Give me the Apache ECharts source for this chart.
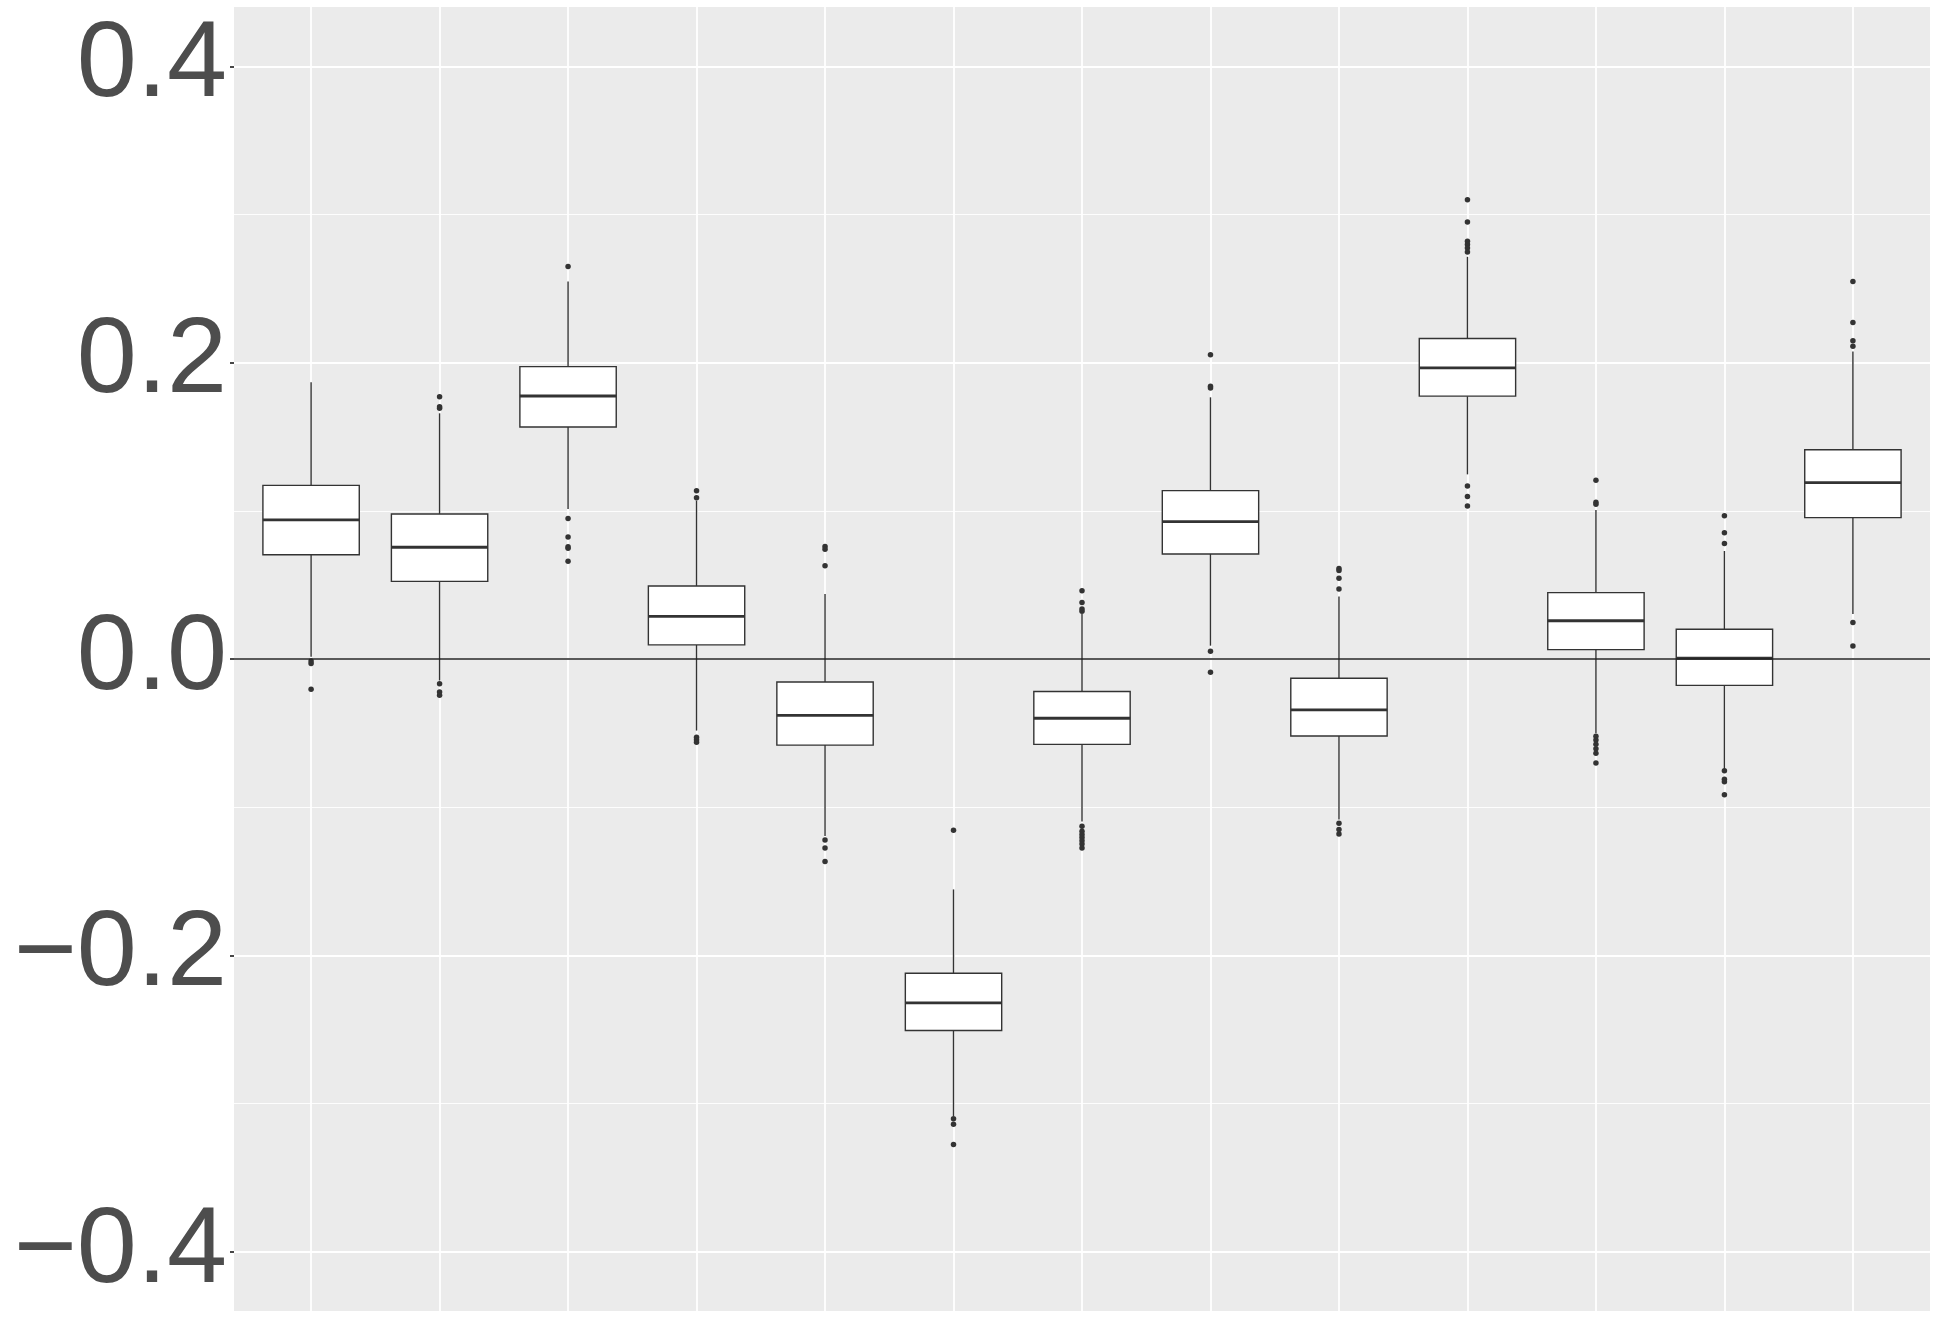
<!DOCTYPE html>
<html>
<head>
<meta charset="utf-8">
<title>boxplot</title>
<script src="https://cdn.jsdelivr.net/npm/echarts@6/dist/echarts.min.js"></script>
<style>
	html, body { margin: 0; padding: 0; background: #fff; }
	#chart { width: 1937px; height: 1321px; }
</style>
</head>
<body>
<div id="chart"></div>
<script>
	// x positions of the 13 groups (no labels shown on the x axis)
	var groups = [0, 1, 2, 3, 4, 5, 6, 7, 8, 9, 10, 11, 12]

	// box statistics per group
	var whiskerLow = [0.0015, -0.0145, 0.1013, -0.0483, -0.1195, -0.3084, -0.1097, 0.0090, -0.1083, 0.1246, -0.0501, -0.0742, 0.0304]
	var q1 = [0.0704, 0.0524, 0.1566, 0.0095, -0.0581, -0.2507, -0.0576, 0.0709, -0.0520, 0.1774, 0.0063, -0.0178, 0.0954]
	var median = [0.0939, 0.0754, 0.1775, 0.0288, -0.0381, -0.2321, -0.0400, 0.0927, -0.0344, 0.1964, 0.0258, 0.0005, 0.1190]
	var q3 = [0.1172, 0.0979, 0.1973, 0.0493, -0.0155, -0.2121, -0.0219, 0.1136, -0.0130, 0.2163, 0.0448, 0.0201, 0.1412]
	var whiskerHigh = [0.1867, 0.1658, 0.2547, 0.1069, 0.0439, -0.1555, 0.0304, 0.1766, 0.0422, 0.2714, 0.1005, 0.0729, 0.2075]

	// outlying points per group
	var outliers = [
		[-0.0013, -0.0030, -0.0204],
		[0.1769, 0.1703, 0.1692, -0.0167, -0.0222, -0.0245],
		[0.2648, 0.0949, 0.0824, 0.0758, 0.0747, 0.0659],
		[0.1136, 0.1089, -0.0528, -0.0545, -0.0562],
		[0.0760, 0.0740, 0.0630, -0.1221, -0.1275, -0.1366],
		[-0.1155, -0.3103, -0.3140, -0.3276],
		[0.0460, 0.0382, 0.0337, 0.0323, -0.1128, -0.1163, -0.1184, -0.1205, -0.1227, -0.1248, -0.1275],
		[0.2054, 0.1840, 0.1828, 0.0052, -0.0090],
		[0.0611, 0.0598, 0.0545, 0.0472, -0.1109, -0.1150, -0.1181],
		[0.3099, 0.2949, 0.2819, 0.2798, 0.2774, 0.2747, 0.1168, 0.1096, 0.1032],
		[0.1207, 0.1057, 0.1045, -0.0522, -0.0546, -0.0576, -0.0606, -0.0636, -0.0702],
		[0.0966, 0.0852, 0.0779, -0.0754, -0.0811, -0.0829, -0.0916],
		[0.2548, 0.2271, 0.2147, 0.2111, 0.0246, 0.0087]
	]

	// y axis ticks
	var yMajorTicks = [-0.4, -0.2, 0, 0.2, 0.4]
	var yMinorTicks = [-0.3, -0.1, 0.1, 0.3]

	var boxData = groups.map(function (g, i) {
		return [g, whiskerLow[i], q1[i], median[i], q3[i], whiskerHigh[i]]
	})
	var outlierData = []
	groups.forEach(function (g, i) {
		outliers[i].forEach(function (v) {
			outlierData.push([g, v])
		})
	})

	var boxColor = '#333333'

	function renderBox(params, api) {
		var x = api.value(0)
		var half = api.size([0.75, 0])[0] / 2
		var pLo = api.coord([x, api.value(1)])
		var pQ1 = api.coord([x, api.value(2)])
		var pMed = api.coord([x, api.value(3)])
		var pQ3 = api.coord([x, api.value(4)])
		var pHi = api.coord([x, api.value(5)])
		var thin = { stroke: boxColor, lineWidth: 1.4 }
		return {
			type: 'group',
			children: [
				{ type: 'line', shape: { x1: pLo[0], y1: pLo[1], x2: pQ1[0], y2: pQ1[1] }, style: thin },
				{ type: 'line', shape: { x1: pQ3[0], y1: pQ3[1], x2: pHi[0], y2: pHi[1] }, style: thin },
				{
					type: 'rect',
					shape: { x: pQ3[0] - half, y: pQ3[1], width: half * 2, height: pQ1[1] - pQ3[1] },
					style: { fill: '#ffffff', stroke: boxColor, lineWidth: 1.4 }
				},
				{
					type: 'line',
					shape: { x1: pMed[0] - half, y1: pMed[1], x2: pMed[0] + half, y2: pMed[1] },
					style: { stroke: boxColor, lineWidth: 2.8 }
				}
			]
		}
	}

	var chart = echarts.init(document.getElementById('chart'))
	var option = {
		animation: false,
		grid: {
			left: 234,
			right: 7,
			top: 7,
			bottom: 10,
			show: true,
			backgroundColor: '#EBEBEB',
			borderWidth: 0,
			outerBoundsMode: 'none'
		},
		xAxis: {
			type: 'value',
			min: -0.6,
			max: 12.6,
			axisLine: { show: false, onZero: false },
			axisTick: { show: false, customValues: groups },
			axisLabel: { show: false, customValues: groups },
			splitLine: { show: true, lineStyle: { color: '#ffffff', width: 1.8 } }
		},
		yAxis: [{
			type: 'value',
			min: -0.44,
			max: 0.44,
			axisLine: { show: false, onZero: false },
			axisTick: {
				show: true,
				length: 4,
				customValues: yMajorTicks,
				lineStyle: { color: '#333333', width: 1.8 }
			},
			axisLabel: {
				customValues: yMajorTicks,
				margin: 7,
				padding: [6, 0, 0, 0],
				color: '#4D4D4D',
				fontSize: 108,
				fontFamily: '"Liberation Sans", Arial, Helvetica, sans-serif',
				formatter: function (v) {
					return (v < 0 ? '\u2212' : '') + Math.abs(v).toFixed(1)
				}
			},
			splitLine: { show: true, lineStyle: { color: '#ffffff', width: 1.8 } }
		}, {
			type: 'value',
			min: -0.44,
			max: 0.44,
			position: 'left',
			axisLine: { show: false, onZero: false },
			axisTick: { show: false, customValues: yMinorTicks },
			axisLabel: { show: false, customValues: yMinorTicks },
			splitLine: { show: true, lineStyle: { color: '#ffffff', width: 0.9 } }
		}],
		series: [{
			type: 'custom',
			renderItem: renderBox,
			data: boxData,
			encode: { x: 0, y: [1, 2, 3, 4, 5] },
			silent: true,
			z: 2
		}, {
			type: 'scatter',
			data: outlierData,
			symbol: 'circle',
			symbolSize: 5.5,
			itemStyle: { color: '#333333', opacity: 1 },
			silent: true,
			z: 3,
			markLine: {
				silent: true,
				symbol: 'none',
				label: { show: false },
				lineStyle: { color: '#222222', width: 1.6, type: 'solid' },
				data: [{ yAxis: 0 }]
			}
		}]
	}
	chart.setOption(option)
</script>
</body>
</html>
